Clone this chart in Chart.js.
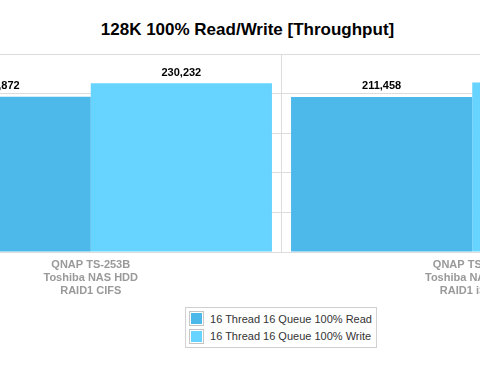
<!DOCTYPE html>
<html>
<head>
<meta charset="utf-8">
<script src="https://cdn.jsdelivr.net/npm/chart.js@4/dist/chart.umd.min.js"></script>
<style>
  html, body { margin: 0; padding: 0; background: #fff; }
  body { width: 480px; height: 368px; overflow: hidden; position: relative; font-family: 'Liberation Sans', Arial, Helvetica, sans-serif; }
  #title { position: absolute; left: 0; top: 21px; width: 495px; text-align: center; font-size: 17px; line-height: 17px; font-weight: bold; color: #000; white-space: nowrap; }
  #chart-wrap { position: absolute; left: -100px; top: 0; }
  #legend { position: absolute; left: 281px; top: 307px; transform: translateX(-50%); border: 1px solid #cfcfcf; padding: 2px 4px 2px 3px; background: #fff; }
  .legend-row { display: flex; align-items: center; height: 17.5px; font-size: 11px; color: #333; white-space: nowrap; }
  .legend-box { width: 11px; height: 11px; border: 1px solid #c4c4c4; padding: 1px; background-clip: content-box; margin-right: 6px; flex: none; }
</style>
</head>
<body>
<div id="title">128K 100% Read/Write [Throughput]</div>
<div id="chart-wrap"><canvas id="chart" width="763" height="308"></canvas></div>
<div id="legend"></div>
<script>
// Data
const categories = [
    ['QNAP TS-253B', 'Toshiba NAS HDD', 'RAID1 CIFS'],
    ['QNAP TS-253B', 'Toshiba NAS HDD', 'RAID1 iSCSI']
];
const readValues = [211872, 211458];
const writeValues = [230232, 231000];
const seriesNames = ['16 Thread 16 Queue 100% Read', '16 Thread 16 Queue 100% Write'];
const yTicks = [0, 54000, 108000, 162000, 216000, 270000];

const FONT = "'Liberation Sans', Arial, Helvetica, sans-serif";
const gridColor = '#dcdcdc';

// value labels above each bar
const valueLabels = {
    id: 'valueLabels',
    afterDatasetsDraw(chart) {
        const ctx = chart.ctx;
        ctx.save();
        ctx.font = 'bold 11px ' + FONT;
        ctx.fillStyle = '#000';
        ctx.textAlign = 'center';
        ctx.textBaseline = 'alphabetic';
        chart.data.datasets.forEach((ds, i) => {
            chart.getDatasetMeta(i).data.forEach((bar, j) => {
                ctx.fillText(ds.data[j].toLocaleString('en-US'), bar.x, bar.y - 7.5);
            });
        });
        ctx.restore();
    }
};

const ctx = document.getElementById('chart').getContext('2d');
const chart = new Chart(ctx, {
    type: 'bar',
    data: {
        labels: categories,
        datasets: [{
            label: seriesNames[0],
            data: readValues,
            backgroundColor: '#4db8ea'
        }, {
            label: seriesNames[1],
            data: writeValues,
            backgroundColor: '#66d4ff'
        }]
    },
    options: {
        responsive: false,
        animation: false,
        categoryPercentage: 0.95,
        barPercentage: 1.0,
        layout: { padding: { top: 54, bottom: 4, left: 0, right: 0 } },
        plugins: {
            legend: { display: false },
            title: { display: false },
            tooltip: { enabled: false }
        },
        scales: {
            x: {
                grid: { color: gridColor, drawTicks: false, offset: true },
                border: { color: gridColor },
                ticks: {
                    color: '#999',
                    padding: 6,
                    maxRotation: 0,
                    autoSkip: false,
                    font: { family: FONT, size: 11, weight: 'bold', lineHeight: '13.3px' }
                }
            },
            y: {
                min: 0,
                max: yTicks[yTicks.length - 1],
                afterBuildTicks: (axis) => { axis.ticks = yTicks.map(v => ({ value: v })); },
                grid: { color: gridColor, drawTicks: false },
                border: { display: false },
                ticks: { display: false }
            }
        }
    },
    plugins: [valueLabels]
});

// HTML legend built from the chart's own legend items
const legendEl = document.getElementById('legend');
Chart.defaults.plugins.legend.labels.generateLabels(chart).forEach(item => {
    const row = document.createElement('div');
    row.className = 'legend-row';
    row.innerHTML = `<span class="legend-box" style="background-color:${item.fillStyle}"></span><span>${item.text}</span>`;
    legendEl.appendChild(row);
});
</script>
</body>
</html>
